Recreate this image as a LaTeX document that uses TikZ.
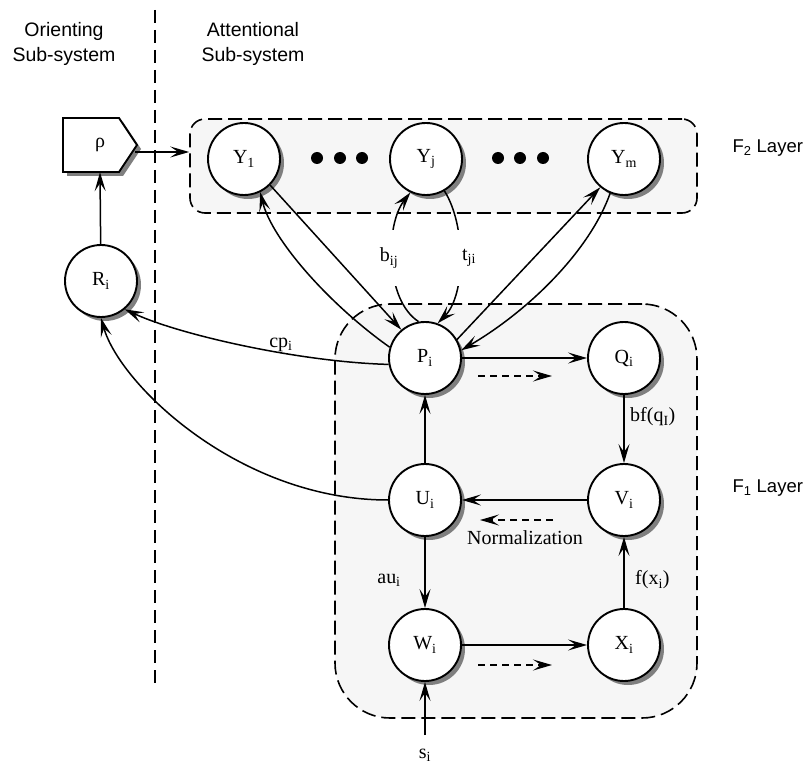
\documentclass[tikz,border=0pt]{standalone}
\usepackage{fontspec}
\setmainfont{Liberation Serif}
\newfontfamily\sansf{Liberation Sans}
\usetikzlibrary{arrows.meta,shadows}
\newcommand\nfont{\rmfamily\fontsize{20}{24}\selectfont}
\newcommand\sfnt{\sansf\fontsize{19.5}{25}\selectfont}
\newcommand\sfntsm{\sansf\fontsize{18.5}{25}\selectfont}
\definecolor{boxfill}{HTML}{F6F6F6}
\definecolor{shad}{HTML}{7F7F7F}
\begin{document}
\begin{tikzpicture}[x=1pt,y=-1pt,
  neuron/.style={circle, draw, line width=1.9pt, fill=white, minimum size=72pt, inner sep=0pt, font=\nfont,
    drop shadow={shadow xshift=4pt, shadow yshift=-4pt, fill=shad, opacity=1}},
  layerbox/.style={draw, line width=1.6pt, dash pattern=on 14pt off 6pt, fill=boxfill},
  conn/.style={line width=1.5pt, -{Stealth[length=19pt,width=11pt,inset=8pt]}},
  flowarrow/.style={conn, dash pattern=on 7pt off 5pt},
  lab/.style={font=\nfont, inner sep=1pt},
  side/.style={font=\sfnt, align=center},
  layerlab/.style={font=\sfntsm, anchor=west},
  dot/.style={circle, fill=black, minimum size=12pt, inner sep=0pt}]
\useasboundingbox (0,0) rectangle (806,767);

% layer boxes
\node[layerbox, rounded corners=15pt, minimum width=507pt, minimum height=94pt] (f2) at (443.5,166) {};
\node[layerbox, rounded corners=55pt, minimum width=362pt, minimum height=414pt] (f1) at (516,511) {};

% separator
\coordinate (septop) at (155,10);
\coordinate (sepbot) at (155,690);
\draw[line width=1.6pt, dash pattern=on 13pt off 7pt] (septop) -- (sepbot);

% side texts
\node[side] (orient) at (64,44) {Orienting\\Sub-system};
\node[side] (attn) at (253,44) {Attentional\\Sub-system};
\node[layerlab] (f2lab) at (729,148) {F\textsubscript{2} Layer};
\node[layerlab] (f1lab) at (729,488) {F\textsubscript{1} Layer};

% orienting nodes
\draw[line width=1.9pt, fill=white, line join=miter,
  drop shadow={shadow xshift=4pt, shadow yshift=-4pt, fill=shad, opacity=1}]
  (63,118) -- (119,118) -- (137,145) -- (119,172) -- (63,172) -- cycle;
\node[font=\nfont, minimum width=74pt, minimum height=54pt, inner sep=0pt] (rho) at (100,145) {ρ};
\node[neuron] (R) at (101,281) {R\textsubscript{i}};

% F2 nodes
\node[neuron] (Y1) at (244,159) {Y\textsubscript{1}};
\node[neuron] (Yj) at (426,159) {Y\textsubscript{j}};
\node[neuron] (Ym) at (624,159) {Y\textsubscript{m}};
\node[dot] (d1) at (317,158) {};
\node[dot] (d2) at (340,158) {};
\node[dot] (d3) at (362,158) {};
\node[dot] (d4) at (498,158) {};
\node[dot] (d5) at (520,158) {};
\node[dot] (d6) at (543,158) {};

% F1 nodes
\node[neuron] (P) at (425,358) {P\textsubscript{i}};
\node[neuron] (Q) at (624,358) {Q\textsubscript{i}};
\node[neuron] (U) at (425,500) {U\textsubscript{i}};
\node[neuron] (V) at (624,500) {V\textsubscript{i}};
\node[neuron] (W) at (425,645) {W\textsubscript{i}};
\node[neuron] (X) at (624,645) {X\textsubscript{i}};

% connectors orienting
\draw[conn] (R) -- (rho.south);
\draw[conn] ([yshift=-7pt,xshift=-2pt]rho.east) -- (f2.west |- 0,152);
\draw[conn] (P.190) .. controls (300,362) and (180,335) .. (R.-50);
\draw[conn] (U.west) .. controls (240,500) and (120,385) .. (R.south);

% F1 <-> F2
\draw[conn] (Y1.-45) -- (P.130);
\draw[conn] (P.163) .. controls (330,305) and (272,240) .. (Y1.-64);
\draw[conn] (P.100) .. controls (385,300) and (385,225) .. (Yj.-115);
\draw[conn] (Yj.-60) .. controls (466,225) and (466,295) .. (P.70);
\draw[conn] (P.30) -- (Ym.-130);
\draw[conn] (Ym.-112) .. controls (590,250) and (530,310) .. (P.12);

% F1 internal
\draw[conn] (P) -- (Q);
\draw[conn] (Q) -- (V);
\draw[conn] (V) -- (U);
\draw[conn] (U) -- (P);
\draw[conn] (U) -- (W);
\draw[conn] (W) -- (X);
\draw[conn] (X) -- (V);
\coordinate (sitop) at (425,735);
\draw[conn] (sitop) -- (W);

% dashed flow arrows
\coordinate (pq1) at (478,376);
\coordinate (pq2) at (552,376);
\coordinate (nm1) at (553,520);
\coordinate (nm2) at (480,520);
\coordinate (wx1) at (478,665);
\coordinate (wx2) at (552,665);
\draw[flowarrow] (pq1) -- (pq2);
\draw[flowarrow] (nm1) -- (nm2);
\draw[flowarrow] (wx1) -- (wx2);

% labels
\node[lab, fill=white, minimum height=56pt, minimum width=30pt] (lb) at (389,258) {b\textsubscript{ij}};
\node[lab, fill=white, minimum height=56pt, minimum width=36pt] (lt) at (469,258) {t\textsubscript{ji}};
\node[lab] (lcp) at (281,345) {cp\textsubscript{i}};
\node[lab, anchor=west] (lbf) at (629,417) {bf(q\textsubscript{I})};
\node[lab, anchor=west] (lfx) at (634,580) {f(x\textsubscript{i})};
\node[lab] (lau) at (389,580) {au\textsubscript{i}};
\node[lab] (lnorm) at (525,538) {Normalization};
\node[lab] (lsi) at (425,755) {s\textsubscript{i}};
\end{tikzpicture}
\end{document}
